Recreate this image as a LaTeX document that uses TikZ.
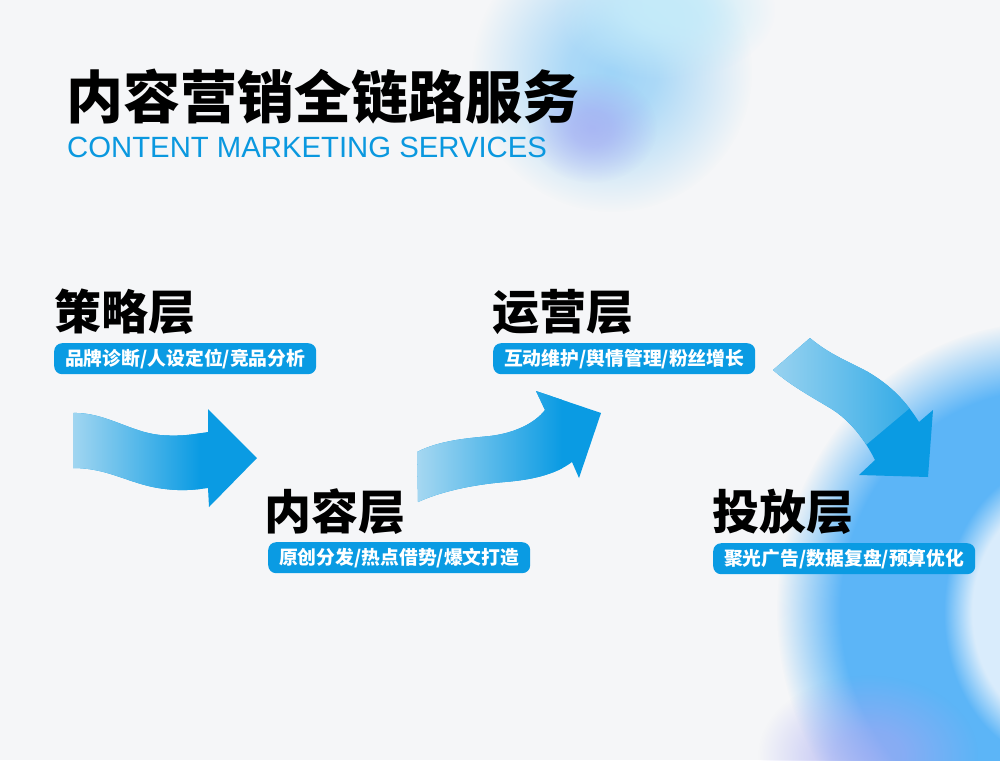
\documentclass[tikz,border=0pt]{standalone}
\usepackage{fontspec}
\setmainfont{Liberation Sans}
\newfontfamily\cjk{Noto Sans CJK SC}
\usetikzlibrary{fadings}

\definecolor{bgc}{HTML}{F5F6F8}
\definecolor{mainblue}{HTML}{0A9BE3}
\definecolor{subblue}{HTML}{0A98DF}
\definecolor{ringblue}{HTML}{5CB5F7}
\definecolor{ringlight}{HTML}{D9ECFC}
\definecolor{skyblue}{HTML}{9FD4F7}
\definecolor{cyanish}{HTML}{C4EBFA}
\definecolor{lilac}{HTML}{A3A7F2}

% soft fadings for the background light
\pgfdeclareradialshading{glowshade}{\pgfpointorigin}{color(0bp)=(pgftransparent!0); color(8bp)=(pgftransparent!15); color(17bp)=(pgftransparent!60); color(25bp)=(pgftransparent!100); color(50bp)=(pgftransparent!100)}
\pgfdeclarefading{glow}{\pgfuseshading{glowshade}}
\pgfdeclareradialshading{ringshade}{\pgfpointorigin}{color(0bp)=(pgftransparent!0); color(19bp)=(pgftransparent!0); color(25bp)=(pgftransparent!100); color(50bp)=(pgftransparent!100)}
\pgfdeclarefading{softedge}{\pgfuseshading{ringshade}}

\tikzset{
  layer/.style={anchor=base west, inner sep=0pt, font=\cjk\bfseries\fontsize{47}{47}\selectfont},
  pill/.style={anchor=north west, fill=mainblue, rounded corners=8pt, text=white,
    minimum width=262pt, minimum height=31pt, inner sep=0pt, font=\cjk\bfseries\fontsize{18.8}{20}\selectfont},
  blob/.style={path fading=glow}
}

\begin{document}
\begin{tikzpicture}[x=1pt, y=-1pt]
\useasboundingbox (0,0) rectangle (1000,760);
\fill[bgc] (0,0) rectangle (1000,760);

% soft background light
\fill[skyblue, blob] (612,72) circle (140);
\fill[cyanish, blob] (665,10) ellipse [x radius=110, y radius=70];
\fill[lilac, opacity=.7, blob] (592,128) ellipse [x radius=65, y radius=55];
\fill[ringblue, path fading=softedge] (1045,610) ellipse [x radius=268, y radius=288];
\fill[ringlight, path fading=softedge] (1062,612) ellipse [x radius=118, y radius=150];
\fill[lilac, opacity=.7, blob] (868,755) ellipse [x radius=110, y radius=80];

% title
\node[anchor=base west, inner sep=0pt, font=\cjk\bfseries\fontsize{57}{57}\selectfont] (ttl) at (66,118) {内容营销全链路服务};
\node[anchor=base west, inner sep=0pt, text=subblue, font=\fontsize{29.3}{29.3}\selectfont] (sub) at (67,157) {CONTENT MARKETING SERVICES};

% arrow 1
\begin{scope}
\clip (73,413) .. controls (105,412) and (130,432) .. (160,435) .. controls (185,437) and (200,433) .. (208,432)
  -- (208,409) -- (257,458) -- (209,507) -- (208,488)
  .. controls (195,490) and (180,491) .. (165,489) .. controls (130,485) and (110,468) .. (73,468) -- cycle;
\fill[mainblue] (60,400) rectangle (270,520);
\shade[left color=mainblue!4!bgc, right color=mainblue] (10,400) rectangle (200,520);
\end{scope}

% arrow 2
\begin{scope}
\clip (417,452) .. controls (440,440) and (470,438) .. (490,436) .. controls (515,433) and (535,423) .. (545,410)
  -- (536,391) -- (601,413) -- (579,478) -- (572,462)
  .. controls (555,475) and (530,480) .. (505,482) .. controls (470,485) and (440,492) .. (418,502) -- cycle;
\fill[mainblue] (400,380) rectangle (610,510);
\shade[left color=mainblue!4!bgc, right color=mainblue] (352,380) rectangle (562,510);
\end{scope}

% arrow 3
\begin{scope}
\clip (810,338) .. controls (830,355) and (850,362) .. (868,372) .. controls (890,385) and (905,400) .. (919,422)
  -- (933,410) -- (928,477) -- (859,475) -- (875,460)
  .. controls (865,440) and (850,420) .. (830,408) .. controls (810,396) and (790,385) .. (773,370) -- cycle;
\fill[mainblue] (760,320) rectangle (950,490);
\shade[shift={(790,352)}, rotate=40, left color=mainblue!4!bgc, right color=mainblue] (-70,-120) rectangle (130,120);
\end{scope}

% layers
\node[layer] (hd1) at (54,329) {策略层};
\node[pill] (pl1) at (54,343) {品牌诊断/人设定位/竞品分析};
\node[layer] (hd2) at (492,329) {运营层};
\node[pill] (pl2) at (493,343) {互动维护/舆情管理/粉丝增长};
\node[layer] (hd3) at (264,529) {内容层};
\node[pill] (pl3) at (268,542) {原创分发/热点借势/爆文打造};
\node[layer] (hd4) at (712,529) {投放层};
\node[pill] (pl4) at (713,543) {聚光广告/数据复盘/预算优化};
\end{tikzpicture}
\end{document}
